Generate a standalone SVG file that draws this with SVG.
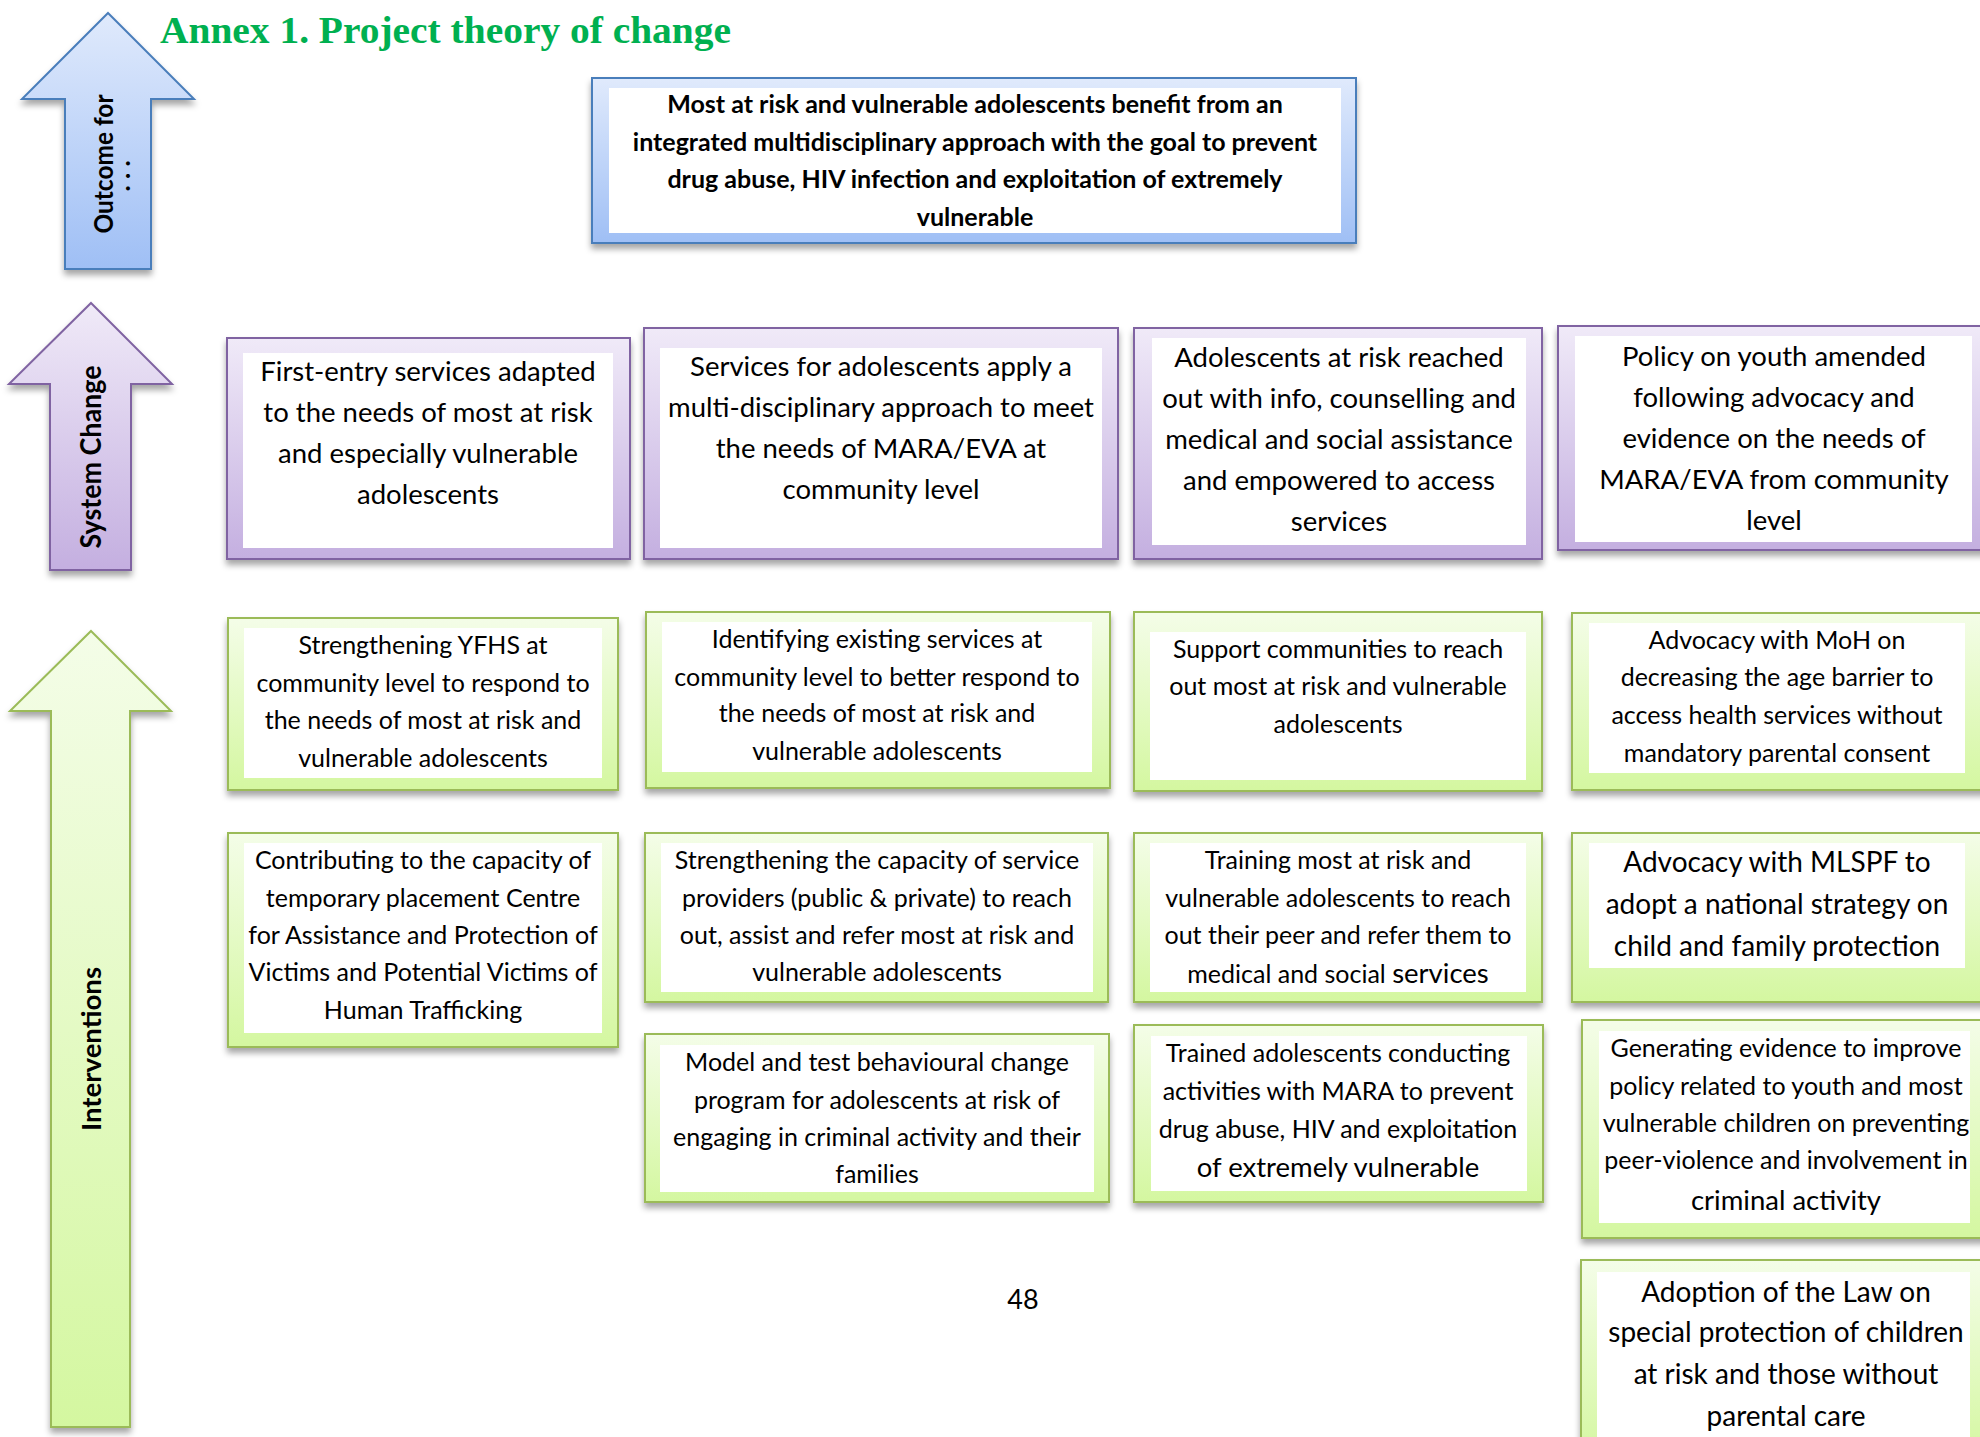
<svg xmlns="http://www.w3.org/2000/svg" width="1980" height="1437" viewBox="0 0 1980 1437">
<defs>
<linearGradient id="gBlue" x1="0" y1="0" x2="0" y2="1"><stop offset="0" stop-color="#e0eafc"/><stop offset="1" stop-color="#9fbff5"/></linearGradient>
<linearGradient id="gPurple" x1="0" y1="0" x2="0" y2="1"><stop offset="0" stop-color="#f0eaf8"/><stop offset="1" stop-color="#c4afe0"/></linearGradient>
<linearGradient id="gGreen" x1="0" y1="0" x2="0" y2="1"><stop offset="0" stop-color="#f4fde8"/><stop offset="1" stop-color="#d4f7a0"/></linearGradient>
<filter id="sh" x="-10%" y="-10%" width="120%" height="130%"><feDropShadow dx="0" dy="5" stdDeviation="3" flood-color="#000" flood-opacity="0.35"/></filter>
</defs>
<style>
.ob{fill:url(#gBlue);stroke:#4a7ebb;stroke-width:2;filter:url(#sh)}
.op{fill:url(#gPurple);stroke:#8064a2;stroke-width:2;filter:url(#sh)}
.og{fill:url(#gGreen);stroke:#9bbb59;stroke-width:2;filter:url(#sh)}
.in{fill:#fff;stroke:none}
.t{font-family:Lato,"Liberation Sans",sans-serif;fill:#000;text-anchor:middle}
.s25{font-size:25px}
.s27{font-size:27.5px}
.s28{font-size:28px}
.b{font-weight:bold}
</style>

<text id="title" x="160" y="43" font-family="'Liberation Serif','Times New Roman',serif" font-weight="bold" font-size="38" fill="#00b050" textLength="571" lengthAdjust="spacingAndGlyphs">Annex 1. Project theory of change</text>

<g id="arrow-outcome">
<polygon class="ob" points="108,13 194,99 151,99 151,269 65,269 65,99 22,99"/>
<text class="t b" font-size="26" transform="translate(113,164) rotate(-90)" textLength="139" lengthAdjust="spacingAndGlyphs">Outcome for</text>
<text class="t b" font-size="26" transform="translate(130,176) rotate(-90)">. . .</text>
</g>
<g id="arrow-system">
<polygon class="op" points="91,303 172,384 131,384 131,570 50,570 50,384 9,384"/>
<text class="t b" font-size="28" transform="translate(101,457) rotate(-90)" textLength="183" lengthAdjust="spacingAndGlyphs">System Change</text>
</g>
<g id="arrow-interventions">
<polygon class="og" points="91,631 171,711 130,711 130,1427 51,1427 51,711 10,711"/>
<text class="t b" font-size="26" transform="translate(101,1049) rotate(-90)" textLength="164" lengthAdjust="spacingAndGlyphs">Interventions</text>
</g>

<g id="outcome">
<rect class="ob" x="592" y="78" width="764" height="165"/>
<rect class="in" x="609" y="88" width="732" height="145"/>
<text class="t b s25" x="975" y="113">Most at risk and vulnerable adolescents benefit from an</text>
<text class="t b s25" x="975" y="151">integrated multidisciplinary approach with the goal to prevent</text>
<text class="t b s25" x="975" y="188">drug abuse, HIV infection and exploitation of extremely</text>
<text class="t b s25" x="975" y="226">vulnerable</text>
</g>

<g id="sc1">
<rect class="op" x="227" y="338" width="403" height="221"/>
<rect class="in" x="243" y="353" width="370" height="195"/>
<text class="t s27" x="428" y="381">First-entry services adapted</text>
<text class="t s27" x="428" y="422">to the needs of most at risk</text>
<text class="t s27" x="428" y="463">and especially vulnerable</text>
<text class="t s27" x="428" y="504">adolescents</text>
</g>
<g id="sc2">
<rect class="op" x="644" y="328" width="474" height="231"/>
<rect class="in" x="660" y="348" width="442" height="200"/>
<text class="t s27" x="881" y="376">Services for adolescents apply a</text>
<text class="t s27" x="881" y="417">multi-disciplinary approach to meet</text>
<text class="t s27" x="881" y="458">the needs of MARA/EVA at</text>
<text class="t s27" x="881" y="499">community level</text>
</g>
<g id="sc3">
<rect class="op" x="1134" y="328" width="408" height="231"/>
<rect class="in" x="1152" y="338" width="374" height="207"/>
<text class="t s27" x="1339" y="367">Adolescents at risk reached</text>
<text class="t s27" x="1339" y="408">out with info, counselling and</text>
<text class="t s27" x="1339" y="449">medical and social assistance</text>
<text class="t s27" x="1339" y="490">and empowered to access</text>
<text class="t s27" x="1339" y="531">services</text>
</g>
<g id="sc4">
<rect class="op" x="1558" y="326" width="432" height="224"/>
<rect class="in" x="1575" y="336" width="397" height="206"/>
<text class="t s27" x="1774" y="366">Policy on youth amended</text>
<text class="t s27" x="1774" y="407">following advocacy and</text>
<text class="t s27" x="1774" y="448">evidence on the needs of</text>
<text class="t s27" x="1774" y="489">MARA/EVA from community</text>
<text class="t s27" x="1774" y="530">level</text>
</g>

<g id="iv-a1">
<rect class="og" x="228" y="618" width="390" height="172"/>
<rect class="in" x="244" y="628" width="358" height="150"/>
<text class="t s25" x="423" y="654">Strengthening YFHS at</text>
<text class="t s25" x="423" y="692">community level to respond to</text>
<text class="t s25" x="423" y="729">the needs of most at risk and</text>
<text class="t s25" x="423" y="767">vulnerable adolescents</text>
</g>
<g id="iv-a2">
<rect class="og" x="646" y="612" width="464" height="176"/>
<rect class="in" x="662" y="622" width="430" height="150"/>
<text class="t s25" x="877" y="648">Identifying existing services at</text>
<text class="t s25" x="877" y="686">community level to better respond to</text>
<text class="t s25" x="877" y="722">the needs of most at risk and</text>
<text class="t s25" x="877" y="760">vulnerable adolescents</text>
</g>
<g id="iv-a3">
<rect class="og" x="1134" y="612" width="408" height="179"/>
<rect class="in" x="1150" y="632" width="376" height="148"/>
<text class="t s25" x="1338" y="658">Support communities to reach</text>
<text class="t s25" x="1338" y="695">out most at risk and vulnerable</text>
<text class="t s25" x="1338" y="733">adolescents</text>
</g>
<g id="iv-a4">
<rect class="og" x="1572" y="613" width="418" height="177"/>
<rect class="in" x="1589" y="623" width="376" height="150"/>
<text class="t s25" x="1777" y="649">Advocacy with MoH on</text>
<text class="t s25" x="1777" y="686">decreasing the age barrier to</text>
<text class="t s25" x="1777" y="724">access health services without</text>
<text class="t s25" x="1777" y="762">mandatory parental consent</text>
</g>

<g id="iv-b1">
<rect class="og" x="228" y="833" width="390" height="214"/>
<rect class="in" x="244" y="843" width="358" height="190"/>
<text class="t s25" x="423" y="869">Contributing to the capacity of</text>
<text class="t s25" x="423" y="907">temporary placement Centre</text>
<text class="t s25" x="423" y="944">for Assistance and Protection of</text>
<text class="t s25" x="423" y="981">Victims and Potential Victims of</text>
<text class="t s25" x="423" y="1019">Human Trafficking</text>
</g>
<g id="iv-b2">
<rect class="og" x="645" y="833" width="463" height="169"/>
<rect class="in" x="661" y="843" width="432" height="149"/>
<text class="t s25" x="877" y="869">Strengthening the capacity of service</text>
<text class="t s25" x="877" y="907">providers (public &amp; private) to reach</text>
<text class="t s25" x="877" y="944">out, assist and refer most at risk and</text>
<text class="t s25" x="877" y="981">vulnerable adolescents</text>
</g>
<g id="iv-b3">
<rect class="og" x="1134" y="833" width="408" height="169"/>
<rect class="in" x="1150" y="843" width="376" height="149"/>
<text class="t s25" x="1338" y="869">Training most at risk and</text>
<text class="t s25" x="1338" y="907">vulnerable adolescents to reach</text>
<text class="t s25" x="1338" y="944">out their peer and refer them to</text>
<text class="t s25" x="1338" y="983">medical and social <tspan font-size="27.5">services</tspan></text>
</g>
<g id="iv-b4">
<rect class="og" x="1572" y="833" width="418" height="169"/>
<rect class="in" x="1589" y="843" width="376" height="125"/>
<text class="t s28" x="1777" y="872">Advocacy with MLSPF to</text>
<text class="t s28" x="1777" y="914">adopt a national strategy on</text>
<text class="t s28" x="1777" y="956">child and family protection</text>
</g>

<g id="iv-c2">
<rect class="og" x="645" y="1034" width="464" height="168"/>
<rect class="in" x="660" y="1045" width="434" height="147"/>
<text class="t s25" x="877" y="1071">Model and test behavioural change</text>
<text class="t s25" x="877" y="1109">program for adolescents at risk of</text>
<text class="t s25" x="877" y="1146">engaging in criminal activity and their</text>
<text class="t s25" x="877" y="1183">families</text>
</g>
<g id="iv-c3">
<rect class="og" x="1134" y="1025" width="409" height="177"/>
<rect class="in" x="1151" y="1036" width="376" height="155"/>
<text class="t s25" x="1338" y="1062">Trained adolescents conducting</text>
<text class="t s25" x="1338" y="1100">activities with MARA to prevent</text>
<text class="t s25" x="1338" y="1138">drug abuse, HIV and exploitation</text>
<text class="t s27" x="1338" y="1177">of extremely vulnerable</text>
</g>
<g id="iv-c4">
<rect class="og" x="1582" y="1020" width="408" height="218"/>
<rect class="in" x="1599" y="1031" width="371" height="192"/>
<text class="t s25" x="1786" y="1057">Generating evidence to improve</text>
<text class="t s25" x="1786" y="1095">policy related to youth and most</text>
<text class="t s25" x="1786" y="1132">vulnerable children on preventing</text>
<text class="t s25" x="1786" y="1169">peer-violence and involvement in</text>
<text class="t s27" x="1786" y="1210">criminal activity</text>
</g>
<g id="iv-d4">
<rect class="og" x="1581" y="1260" width="409" height="200"/>
<rect class="in" x="1597" y="1272" width="373" height="180"/>
<text class="t s28" x="1786" y="1302">Adoption of the Law on</text>
<text class="t s28" x="1786" y="1342">special protection of children</text>
<text class="t s28" x="1786" y="1384">at risk and those without</text>
<text class="t s28" x="1786" y="1426">parental care</text>
</g>

<text id="page-number" class="t" font-size="27" x="1023" y="1309">48</text>
</svg>
